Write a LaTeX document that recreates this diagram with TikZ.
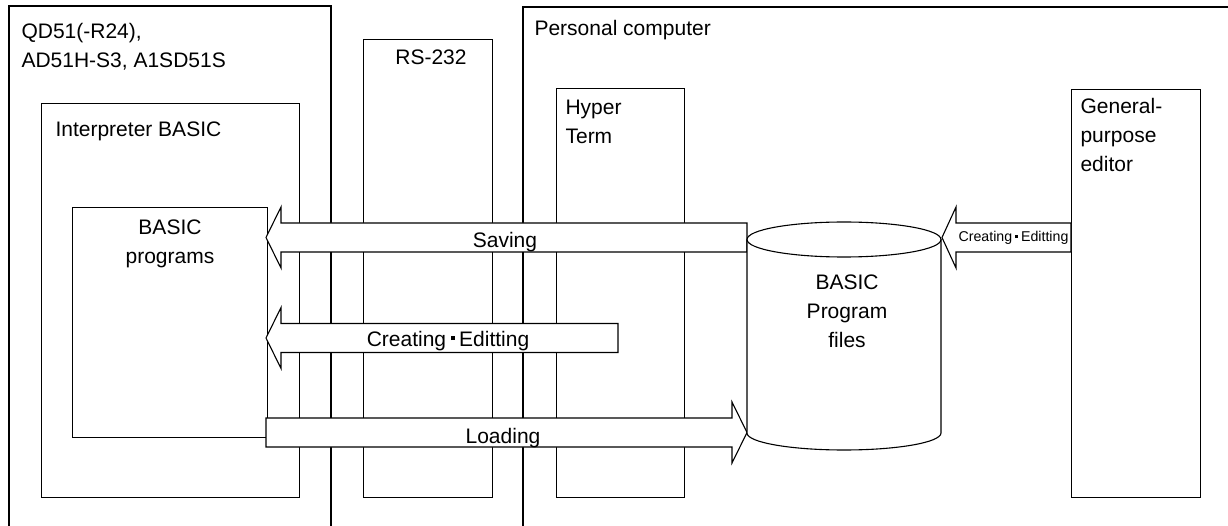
\documentclass[tikz,border=0pt]{standalone}
\usepackage{fontspec}
\setmainfont{Liberation Sans}
\newcommand{\midsq}{\hspace{0.22em}\rule[0.28em]{0.18em}{0.18em}\hspace{0.22em}}
% #1 tip x, #2 head back x, #3 tail x, #4 centre y
\newcommand{\blockarrow}[4]{%
  \draw[barrow] (#1,#4) -- (#2,{#4-30.5}) -- (#2,{#4-14.5}) -- (#3,{#4-14.5})
    -- (#3,{#4+14.5}) -- (#2,{#4+14.5}) -- (#2,{#4+30.5}) -- cycle;}
\begin{document}
\begin{tikzpicture}[x=1pt,y=-1pt,line width=1.1pt,line join=miter,
  box/.style={draw,inner sep=0pt,anchor=north west},
  lbl/.style={inner sep=0pt,font=\fontsize{21}{29}\selectfont},
  small/.style={inner sep=0pt,font=\fontsize{14.2}{17}\selectfont},
  barrow/.style={draw,fill=white}]
\useasboundingbox (0,0) rectangle (1228,526);

% open outer frames (cut by the picture edge)
\draw (9,527) -- (9,6) -- (331,6) -- (331,527);
\draw (523,527) -- (523,7) -- (1229,7);

% boxes
\node[box,minimum width=258pt,minimum height=394pt] (interp) at (41,103) {};
\node[box,minimum width=195pt,minimum height=230pt] (prog) at (72,207) {};
\node[box,minimum width=129pt,minimum height=458pt] (rs) at (363,39) {};
\node[box,minimum width=128pt,minimum height=409pt] (hyper) at (556,88) {};
\node[box,minimum width=129pt,minimum height=408pt] (editor) at (1071,89) {};

% texts
\node[lbl,align=left,anchor=north west] (qd) at (21,23) {QD51(-R24),\\AD51H-S3, A1SD51S};
\node[lbl,anchor=base west] (pc) at (534,36) {Personal computer};
\node[lbl,anchor=base west] (interpT) at (55,137) {Interpreter BASIC};
\node[lbl,align=center,anchor=north] (progT) at (170,219) {BASIC\\programs};
\node[lbl,anchor=base] (rsT) at (431,65) {RS-232};
\node[lbl,align=left,anchor=north west] (hyperT) at (565,100) {Hyper\\Term};
\node[lbl,align=left,anchor=north west] (editorT) at (1080,98) {General-\\purpose\\editor};

% block arrows
\blockarrow{266}{281}{747}{237.5}
\node[lbl,anchor=base] (saving) at (505,248) {Saving};
\blockarrow{266}{281}{618}{338}
\node[lbl,anchor=base] (create) at (448,346) {Creating\midsq Editting};
\blockarrow{747}{732}{266}{432.5}
\node[lbl,anchor=base] (loading) at (503,443) {Loading};
\blockarrow{942}{956}{1071}{237.5}
\node[small,anchor=base west] (create2) at (958,242) {Creating\midsq Editting};

% cylinder
\draw[fill=white] (747,239.5) -- (747,433)
  arc[start angle=180,end angle=360,x radius=97pt,y radius=17pt] -- (941,239.5);
\draw (844,239.5) ellipse [x radius=97pt,y radius=17.5pt];
\node[lbl,align=center,anchor=north] (files) at (847,274) {BASIC\\Program\\files};
\end{tikzpicture}
\end{document}
